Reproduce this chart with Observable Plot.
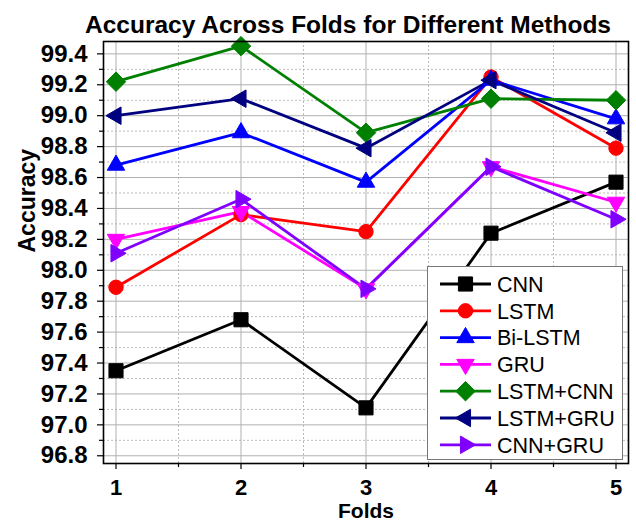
<!DOCTYPE html>
<html><head><meta charset="utf-8">
<script src="https://cdn.jsdelivr.net/npm/d3@7"></script>
<script src="https://cdn.jsdelivr.net/npm/@observablehq/plot@0.6"></script>
<style>
body{margin:0;background:#fff;font-family:"Liberation Sans",Arial,sans-serif}
#wrap{position:relative;width:636px;height:525px;overflow:hidden}
#legend{position:absolute;left:427px;top:266px;width:196px;height:194px;border:1.5px solid #777;background:#fff;box-sizing:border-box}
</style></head><body><div id="wrap"></div>
<script>
// ---- data ----
const folds = [1, 2, 3, 4, 5];
const seriesNames = ["CNN", "LSTM", "Bi-LSTM", "GRU", "LSTM+CNN", "LSTM+GRU", "CNN+GRU"];
const cnn      = [97.35, 97.68, 97.11, 98.24, 98.57];
const lstm     = [97.89, 98.36, 98.25, 99.25, 98.79];
const biLstm   = [98.68, 98.89, 98.57, 99.23, 98.98];
const gru      = [98.20, 98.38, 97.88, 98.67, 98.44];
const lstmCnn  = [99.22, 99.45, 98.89, 99.11, 99.10];
const lstmGru  = [99.00, 99.11, 98.79, 99.23, 98.89];
const cnnGru   = [98.11, 98.46, 97.88, 98.67, 98.33];
const colors = ["#000000", "#ff0000", "#0000ff", "#ff00ff", "#008000", "#000080", "#8000ff"];
const yTicks = [96.8, 97.0, 97.2, 97.4, 97.6, 97.8, 98.0, 98.2, 98.4, 98.6, 98.8, 99.0, 99.2, 99.4];
const yMinor = [96.9, 97.1, 97.3, 97.5, 97.7, 97.9, 98.1, 98.3, 98.5, 98.7, 98.9, 99.1, 99.3];
const xMinor = [1.5, 2.5, 3.5, 4.5];
const title = "Accuracy Across Folds for Different Methods";
const xLabel = "Folds";
const yLabel = "Accuracy";

// ---- symbols ----
function tri(angleDeg){
  return {draw(ctx, size){
    const R = Math.sqrt(size / Math.PI) * 1.4;
    const a0 = angleDeg * Math.PI / 180;
    for (let i = 0; i < 3; i++){
      const a = a0 + i * 2 * Math.PI / 3;
      const x = R * Math.cos(a), y = R * Math.sin(a);
      if (i === 0) ctx.moveTo(x, y); else ctx.lineTo(x, y);
    }
    ctx.closePath();
  }};
}
const diamond = {draw(ctx, size){
  const R = Math.sqrt(size / Math.PI) * 1.35;
  ctx.moveTo(0, -R); ctx.lineTo(R, 0); ctx.lineTo(0, R); ctx.lineTo(-R, 0); ctx.closePath();
}};
const square = {draw(ctx, size){
  const h = Math.sqrt(size / Math.PI) * 0.98;
  ctx.rect(-h, -h, 2*h, 2*h);
}};
const circle = {draw(ctx, size){
  const r = Math.sqrt(size / Math.PI);
  ctx.moveTo(r, 0); ctx.arc(0, 0, r, 0, 2*Math.PI);
}};
const symbols = [square, circle, tri(-90), tri(90), diamond, tri(180), tri(0)];

const allValues = [cnn, lstm, biLstm, gru, lstmCnn, lstmGru, cnnGru];
const data = [];
allValues.forEach((vals, si) => vals.forEach((v, i) => data.push({fold: folds[i], acc: v, s: si})));

const font = '"Liberation Sans",Arial,sans-serif';
const chart = Plot.plot({
  width: 636, height: 525,
  marginLeft: 103, marginRight: 8, marginTop: 41, marginBottom: 62,
  style: {fontFamily: font, background: "#fff", overflow: "visible"},
  x: {domain: [0.9, 5.1]},
  y: {domain: [96.75, 99.48]},
  marks: [
    Plot.gridY(yMinor, {stroke: "#bbb", strokeOpacity: 1, strokeDasharray: "2,2"}),
    Plot.gridX(xMinor, {stroke: "#bbb", strokeOpacity: 1, strokeDasharray: "2,2"}),
    Plot.gridY(yTicks, {stroke: "#b0b0b0", strokeOpacity: 1}),
    Plot.gridX(folds, {stroke: "#b0b0b0", strokeOpacity: 1}),
    ...allValues.map((vals, si) => Plot.line(data.filter(d => d.s === si), {x: "fold", y: "acc", stroke: colors[si], strokeWidth: 2.8})),
    ...allValues.map((vals, si) => Plot.dot(data.filter(d => d.s === si), {x: "fold", y: "acc", fill: colors[si], stroke: colors[si], strokeWidth: 1, r: 7.2, symbol: () => symbols[si]})),
    Plot.frame({stroke: "#000", strokeWidth: 1.6}),
    Plot.axisY(yTicks, {tickSize: 6, tickPadding: 10, tickFormat: d => d.toFixed(1), fontSize: 24, fontWeight: "bold", label: null, stroke: "#000", strokeWidth: 1.2}),
    Plot.axisY(yMinor, {tickSize: 4, tickFormat: () => "", label: null, strokeWidth: 1.2}),
    Plot.axisX(folds, {tickSize: 6, tickPadding: 10, tickFormat: d => String(d), fontSize: 22, fontWeight: "bold", label: null, strokeWidth: 1.2}),
    Plot.axisX(xMinor, {tickSize: 4, tickFormat: () => "", label: null, strokeWidth: 1.2}),
    Plot.text([xLabel], {frameAnchor: "bottom", dy: 48, lineAnchor: "middle", fontSize: 21, fontWeight: "bold"}),
    Plot.text([yLabel], {frameAnchor: "left", dx: -76, rotate: -90, fontSize: 23, fontWeight: "bold"}),
    Plot.text([title], {frameAnchor: "top", dx: -18, dy: -9, lineAnchor: "bottom", fontSize: 24.5, fontWeight: "bold"})
  ]
});
document.getElementById("wrap").appendChild(chart);

// ---- legend ----
const leg = document.createElement("div");
leg.id = "legend";
document.getElementById("wrap").appendChild(leg);
const ls = d3.select(leg).append("svg").attr("width", 194).attr("height", 192);
seriesNames.forEach((name, i) => {
  const y = 17 + i * 26.8;
  const g = ls.append("g");
  g.append("line").attr("x1", 12).attr("x2", 63).attr("y1", y).attr("y2", y).attr("stroke", colors[i]).attr("stroke-width", 2.8);
  g.append("path").attr("d", d3.symbol().type(symbols[i]).size(Math.PI * 52)()).attr("transform", `translate(37.5,${y})`).attr("fill", colors[i]).attr("stroke", colors[i]);
  g.append("text").attr("x", 69).attr("y", y).attr("dy", "0.36em").attr("font-size", 21.5).attr("font-family", font).text(name);
});
</script></body></html>
